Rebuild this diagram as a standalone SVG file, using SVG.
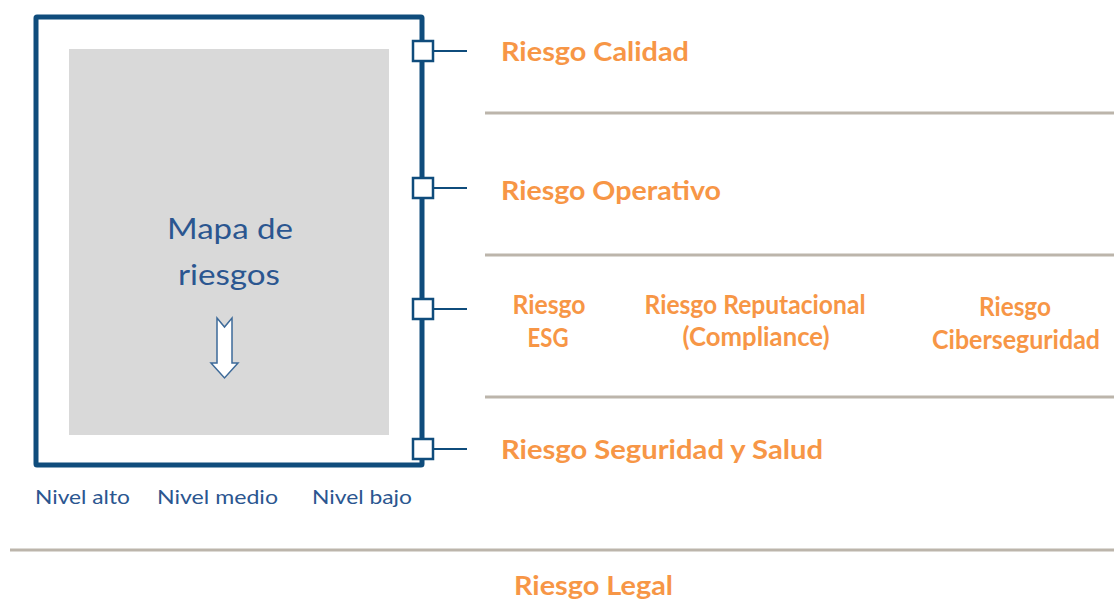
<svg xmlns="http://www.w3.org/2000/svg" width="1114" height="599" viewBox="0 0 1114 599">
<style>
.or{font-family:Lato,"Liberation Sans",sans-serif;font-weight:bold;font-size:26px;fill:#f79646}
.bl{font-family:Lato,"Liberation Sans",sans-serif;fill:#2b5690}
.sep{stroke:#bcb5ab;stroke-width:3;fill:none}
.port{fill:#fff;stroke:#0f4c7c;stroke-width:2.5}
.conn{stroke:#0f4c7c;stroke-width:2;fill:none}
</style>
<rect width="1114" height="599" fill="#fff"/>
<g id="separators">
<line class="sep" x1="485" y1="113" x2="1114" y2="113"/>
<line class="sep" x1="485" y1="255" x2="1114" y2="255"/>
<line class="sep" x1="485" y1="397" x2="1114" y2="397"/>
<line class="sep" x1="10" y1="550" x2="1114" y2="550"/>
</g>
<g id="mapa">
<rect x="36" y="17" width="386" height="448" fill="none" stroke="#0f4c7c" stroke-width="5" rx="1"/>
<rect x="69" y="49" width="320" height="386" fill="#d9d9d9"/>
<text class="bl" x="230" y="239" font-size="29" text-anchor="middle" textLength="126" lengthAdjust="spacingAndGlyphs">Mapa de</text>
<text class="bl" x="229" y="285" font-size="29" text-anchor="middle" textLength="102" lengthAdjust="spacingAndGlyphs">riesgos</text>
<path d="M217,318 L224.5,327 L232,318 L232,363 L238,363 L224.5,378 L211,363 L217,363 Z" fill="#fff" stroke="#3d6a99" stroke-width="1.5"/>
</g>
<g id="niveles">
<text class="bl" x="35" y="504" font-size="20" textLength="95" lengthAdjust="spacingAndGlyphs">Nivel alto</text>
<text class="bl" x="157" y="504" font-size="20" textLength="121" lengthAdjust="spacingAndGlyphs">Nivel medio</text>
<text class="bl" x="312" y="504" font-size="20" textLength="100" lengthAdjust="spacingAndGlyphs">Nivel bajo</text>
</g>
<g id="connectors">
<line class="conn" x1="433" y1="51" x2="467" y2="51"/>
<line class="conn" x1="433" y1="188" x2="467" y2="188"/>
<line class="conn" x1="433" y1="309" x2="467" y2="309"/>
<line class="conn" x1="433" y1="449" x2="467" y2="449"/>
</g>
<g id="ports">
<rect class="port" x="413" y="41" width="20" height="20"/>
<rect class="port" x="413" y="178" width="20" height="20"/>
<rect class="port" x="413" y="299" width="20" height="20"/>
<rect class="port" x="413" y="439" width="20" height="20"/>
</g>
<g id="riesgo-calidad">
<text class="or" x="501" y="61" textLength="188" lengthAdjust="spacingAndGlyphs">Riesgo  Calidad</text>
</g>
<g id="riesgo-operativo">
<text class="or" x="501" y="200" textLength="220" lengthAdjust="spacingAndGlyphs">Riesgo  Operativo</text>
</g>
<g id="riesgo-esg">
<text class="or" x="549" y="314" font-size="23" text-anchor="middle" textLength="73" lengthAdjust="spacingAndGlyphs">Riesgo</text>
<text class="or" x="548" y="347" font-size="23" text-anchor="middle" textLength="41" lengthAdjust="spacingAndGlyphs">ESG</text>
</g>
<g id="riesgo-reputacional">
<text class="or" x="755" y="314" font-size="23" text-anchor="middle" textLength="221" lengthAdjust="spacingAndGlyphs">Riesgo Reputacional</text>
<text class="or" x="756" y="346" font-size="23" text-anchor="middle" textLength="147" lengthAdjust="spacingAndGlyphs">(Compliance)</text>
</g>
<g id="riesgo-ciberseguridad">
<text class="or" x="1015" y="316" font-size="23" text-anchor="middle" textLength="72" lengthAdjust="spacingAndGlyphs">Riesgo</text>
<text class="or" x="1016" y="349" font-size="23" text-anchor="middle" textLength="168" lengthAdjust="spacingAndGlyphs">Ciberseguridad</text>
</g>
<g id="riesgo-seguridad-salud">
<text class="or" x="501" y="459" textLength="322" lengthAdjust="spacingAndGlyphs">Riesgo  Seguridad  y  Salud</text>
</g>
<g id="riesgo-legal">
<text class="or" x="514" y="595" textLength="159" lengthAdjust="spacingAndGlyphs">Riesgo  Legal</text>
</g>
</svg>
